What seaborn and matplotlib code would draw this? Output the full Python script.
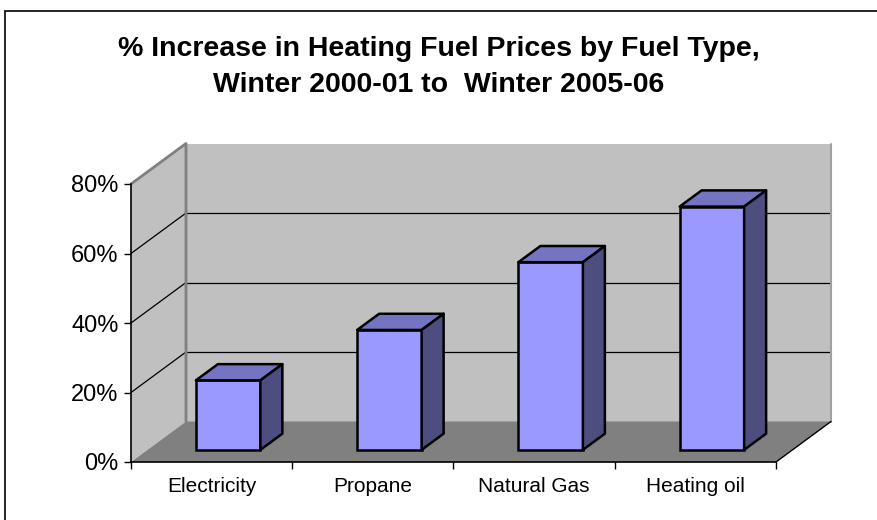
import matplotlib
matplotlib.use("Agg")
import matplotlib.pyplot as plt
import matplotlib.transforms as mtransforms
from matplotlib.patches import Polygon, Rectangle
import seaborn as sns
import pandas as pd

categories = ["Electricity", "Propane", "Natural Gas", "Heating oil"]
values = [20, 34.5, 54, 70]
y_ticks = [0, 20, 40, 60, 80]
y_tick_labels = ["0%", "20%", "40%", "60%", "80%"]
title = "% Increase in Heating Fuel Prices by Fuel Type,\nWinter 2000-01 to  Winter 2005-06"

sns.set_theme(style="white")
plt.rcParams["font.family"] = ["Liberation Sans", "DejaVu Sans"]

W, H = 878, 520
fig = plt.figure(figsize=(W / 100, H / 100), dpi=100)
fig.patch.set_facecolor("white")

# front plane of the plot box in pixels
x0, x1, yb, yt = 131, 776, 462, 184
ax = fig.add_axes([x0 / W, (H - yb) / H, (x1 - x0) / W, (yb - yt) / H])
ax.set_facecolor("none")

df = pd.DataFrame({"cat": categories, "val": values})
sns.barplot(data=df, x="cat", y="val", color="#9999FF", width=0.4,
            edgecolor="black", linewidth=1.8, saturation=1, ax=ax, zorder=5)

ax.set_xlim(-0.5, 3.5)
ax.set_ylim(0, 80)

# depth offsets (data units) for full depth
px_per_cat = (x1 - x0) / 4.0
px_per_pct = (yb - yt) / 80.0
DX = 55 / px_per_cat
DY = 40.5 / px_per_pct

def P(x, y, d):
    return (x + DX * d, y + DY * d)

xl, xr = -0.5, 3.5
ymax = 80
# walls
back = Polygon([P(xl, 0, 1), P(xr, 0, 1), P(xr, ymax, 1), P(xl, ymax, 1)],
               closed=True, facecolor="#C0C0C0", edgecolor="none", clip_on=False, zorder=0)
left = Polygon([P(xl, 0, 0), P(xl, 0, 1), P(xl, ymax, 1), P(xl, ymax, 0)],
               closed=True, facecolor="#C0C0C0", edgecolor="none", clip_on=False, zorder=0)
floor = Polygon([P(xl, 0, 0), P(xr, 0, 0), P(xr, 0, 1), P(xl, 0, 1)],
                closed=True, facecolor="#808080", edgecolor="none", clip_on=False, zorder=1)
for p in (back, left, floor):
    ax.add_patch(p)

# gridlines
for v in y_ticks[1:-1]:
    a, b = P(xl, v, 0), P(xl, v, 1)
    ax.plot([a[0], b[0]], [a[1], b[1]], color="black", lw=0.9, clip_on=False, zorder=2)
    a, b = P(xl, v, 1), P(xr, v, 1)
    ax.plot([a[0], b[0]], [a[1], b[1]], color="black", lw=0.9, clip_on=False, zorder=2)

# wall edges
a, b, c = P(xl, ymax, 0), P(xl, ymax, 1), P(xl, 0, 1)
ax.plot([a[0], b[0], c[0]], [a[1], b[1], c[1]], color="#808080", lw=2, clip_on=False, zorder=2)
a, b = P(xr, 0, 1), P(xr, ymax, 1)
ax.plot([a[0], b[0]], [a[1], b[1]], color="#A0A0A0", lw=1.5, clip_on=False, zorder=2)
a, b = P(xr, 0, 0), P(xr, 0, 1)
ax.plot([a[0], b[0]], [a[1], b[1]], color="black", lw=1, clip_on=False, zorder=2)

# 3D bars: shift seaborn's front faces into depth and add top/side faces
d0, d1 = 0.3, 0.7
shift = mtransforms.Affine2D().translate(DX * d0, DY * d0) + ax.transData
for patch in list(ax.patches):
    if patch in (back, left, floor):
        continue
    bx, bw, bh = patch.get_x(), patch.get_width(), patch.get_height()
    patch.set_transform(shift)
    patch.set_clip_on(False)
    top = Polygon([P(bx, bh, d0), P(bx + bw, bh, d0), P(bx + bw, bh, d1), P(bx, bh, d1)],
                  closed=True, facecolor="#7474C2", edgecolor="black", lw=1.8,
                  joinstyle="round", clip_on=False, zorder=5)
    side = Polygon([P(bx + bw, 0, d0), P(bx + bw, 0, d1), P(bx + bw, bh, d1), P(bx + bw, bh, d0)],
                   closed=True, facecolor="#4D4D80", edgecolor="black", lw=1.8,
                   joinstyle="round", clip_on=False, zorder=5)
    ax.add_patch(top)
    ax.add_patch(side)

# axes styling
for s in ("top", "right"):
    ax.spines[s].set_visible(False)
for s in ("left", "bottom"):
    ax.spines[s].set_color("black")
    ax.spines[s].set_linewidth(1.2)
    ax.spines[s].set_zorder(3)

ax.set_yticks(y_ticks)
ax.set_yticklabels(y_tick_labels)
ax.set_xticks(range(len(categories)))
ax.set_xticklabels(categories)
ax.set_xticks([-0.5, 0.5, 1.5, 2.5, 3.5], minor=True)
ax.tick_params(axis="y", which="major", direction="out", length=5, width=1,
               color="black", labelsize=17, labelcolor="black", pad=4, left=True)
ax.tick_params(axis="x", which="major", length=0, labelsize=15, labelcolor="black", pad=11)
ax.tick_params(axis="x", which="minor", direction="out", length=5, width=1,
               color="black", bottom=True)
ax.set_xlabel("")
ax.set_ylabel("")
ax.grid(False)

fig.text(0.5, 1 - 67 / H, title, ha="center", va="center",
         fontsize=20.5, fontweight="bold", color="black", linespacing=1.55)

# chart border
fig.add_artist(Rectangle((5.5 / W, -0.1), 1.2, 1.1 - 11 / H, transform=fig.transFigure,
                         fill=False, edgecolor="black", lw=1.2))

fig.savefig("out.png", dpi=100)
